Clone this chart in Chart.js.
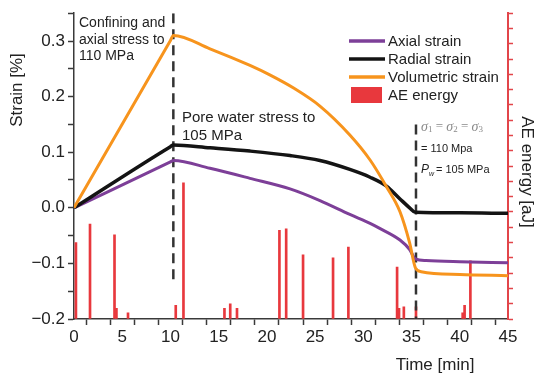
<!DOCTYPE html>
<html>
<head>
<meta charset="utf-8">
<script src="https://cdn.jsdelivr.net/npm/chart.js@4/dist/chart.umd.min.js"></script>
<style>
  html, body { margin: 0; padding: 0; background: #fff; }
  #wrap { width: 537px; height: 376px; position: relative; }
</style>
</head>
<body>
<div id="wrap"><canvas id="chart"></canvas></div>
<script>
// strain curves, time in minutes, strain in %
const axialTime = [0, 10.0, 10.3, 14.1, 18.25, 22.4, 25.5, 28.6, 30.7, 31.7, 33.8, 34.8, 35.4, 36.5, 40, 45];
const axialStrain = [0, 0.0825, 0.085, 0.071, 0.053, 0.034, 0.013, -0.012, -0.028, -0.037, -0.058, -0.075, -0.092, -0.095, -0.097, -0.099];

const radialTime = [0, 10.0, 10.3, 14.1, 18.25, 22.4, 25.5, 28.6, 30.7, 32.4, 33.8, 34.8, 35.4, 40, 45];
const radialStrain = [0, 0.11, 0.113, 0.108, 0.102, 0.094, 0.085, 0.069, 0.055, 0.039, 0.016, 0.0, -0.008, -0.009, -0.01];

const volTime = [0, 10.0, 10.3, 14.1, 18.25, 20.3, 22.9, 25.5, 28.6, 30.7, 32.4, 33.8, 34.8, 35.4, 36, 40, 45];
const volStrain = [0, 0.301, 0.31, 0.286, 0.256, 0.239, 0.214, 0.183, 0.131, 0.086, 0.038, -0.007, -0.063, -0.108, -0.115, -0.12, -0.122];

// acoustic emission events (right axis, unlabelled)
const aeTime = [0.2, 1.66, 4.2, 4.4, 5.6, 10.55, 11.35, 15.6, 16.2, 16.9, 21.3, 22.0, 23.75, 26.86, 28.45, 33.5, 33.7, 34.2, 35.46, 40.3, 40.5, 41.1];
const aeEnergy = [5.0, 6.2, 5.5, 0.7, 0.4, 0.9, 8.9, 0.7, 1.0, 0.7, 5.8, 5.9, 4.2, 4.0, 4.7, 3.4, 0.7, 0.8, 0.8, 0.4, 0.9, 3.8];

// stage markers: [time, top strain, bottom strain]
const stageLines = [[10.3, 0.35, -0.135], [35.46, 0.15, -0.2]];

const COL = {
  axial: '#7d3f98',
  radial: '#141414',
  vol: '#f7941d',
  ae: '#e8383d',
  aeAxis: '#e2454a',
  axis: '#3a3a3a',
  text: '#222'
};
const SANS = '"Liberation Sans", Arial, Helvetica, sans-serif';
const SERIF = '"Liberation Serif", "Times New Roman", serif';

const pts = (xs, ys) => xs.map((x, i) => ({ x, y: ys[i] }));

function strainLine(label, xs, ys, color, width, order) {
  return {
    type: 'line', label, data: pts(xs, ys),
    borderColor: color, backgroundColor: color, borderWidth: width,
    pointRadius: 0, cubicInterpolationMode: 'monotone', fill: false,
    yAxisID: 'y', order
  };
}

const dashSets = stageLines.map(([t, top, bot]) => ({
  type: 'line', label: 'stage', data: [{ x: t, y: top }, { x: t, y: bot }],
  borderColor: '#333', borderWidth: 2.5, borderDash: [10, 6],
  pointRadius: 0, yAxisID: 'y', order: 4
}));

// legend, annotations and axis titles drawn by hand to sit where the original has them
const decorPlugin = {
  id: 'decor',
  afterDraw(chart) {
    const ctx = chart.ctx;
    ctx.save();
    ctx.textBaseline = 'middle';
    ctx.textAlign = 'left';

    // legend
    const rows = [
      ['Axial strain', COL.axial, 41],
      ['Radial strain', COL.radial, 59],
      ['Volumetric strain', COL.vol, 77]
    ];
    rows.forEach(([txt, c, y]) => {
      ctx.strokeStyle = c;
      ctx.lineWidth = 3.5;
      ctx.beginPath();
      ctx.moveTo(349, y);
      ctx.lineTo(385, y);
      ctx.stroke();
      ctx.fillStyle = COL.text;
      ctx.font = '15px ' + SANS;
      ctx.fillText(txt, 388, y + 1);
    });
    ctx.fillStyle = COL.ae;
    ctx.fillRect(351, 87, 31, 16);
    ctx.fillStyle = COL.text;
    ctx.fillText('AE energy', 388, 96);

    // annotations
    ctx.font = '14px ' + SANS;
    ctx.fillText('Confining and', 79, 23);
    ctx.fillText('axial stress to', 79, 40);
    ctx.fillText('110 MPa', 79, 56);
    ctx.font = '15px ' + SANS;
    ctx.fillText('Pore water stress to', 182, 118);
    ctx.fillText('105 MPa', 182, 136);

    // stress state box
    let x = 421;
    const seg = (s, font, color, dy) => {
      ctx.font = font;
      ctx.fillStyle = color;
      ctx.fillText(s, x, 127 + (dy || 0));
      x += ctx.measureText(s).width;
    };
    const g = '#8a8a8a';
    seg('\u03c3', 'italic 14px ' + SERIF, g);
    seg('1', '9px ' + SERIF, g, 3);
    seg(' = ', '13px ' + SERIF, g);
    seg('\u03c3', 'italic 14px ' + SERIF, g);
    seg('2', '9px ' + SERIF, g, 3);
    seg(' = ', '13px ' + SERIF, g);
    seg('\u03c3', 'italic 14px ' + SERIF, g);
    seg('3', '9px ' + SERIF, g, 3);

    ctx.fillStyle = COL.text;
    ctx.font = '11px ' + SANS;
    ctx.fillText('= 110 Mpa', 421, 149);
    ctx.font = 'italic 12px ' + SANS;
    ctx.fillText('P', 421, 170);
    ctx.font = 'italic 7px ' + SANS;
    ctx.fillText('w', 429, 174);
    ctx.font = '11px ' + SANS;
    ctx.fillText('= 105 MPa', 436, 170);

    // axis titles
    ctx.fillStyle = COL.text;
    ctx.font = '17px ' + SANS;
    ctx.textAlign = 'center';
    ctx.fillText('Time [min]', 435, 365);

    ctx.save();
    ctx.translate(17, 90);
    ctx.rotate(-Math.PI / 2);
    ctx.fillText('Strain [%]', 0, 0);
    ctx.restore();

    ctx.save();
    ctx.translate(527, 172);
    ctx.rotate(Math.PI / 2);
    ctx.fillText('AE energy [aJ]', 0, 0);
    ctx.restore();

    ctx.restore();
  }
};

const isTenth = v => Math.abs(Math.round(v * 10) - v * 10) < 1e-6;

new Chart(document.getElementById('chart'), {
  type: 'line',
  plugins: [decorPlugin],
  data: {
    datasets: [
      strainLine('Axial strain', axialTime, axialStrain, COL.axial, 3, 3),
      strainLine('Radial strain', radialTime, radialStrain, COL.radial, 3.5, 2),
      strainLine('Volumetric strain', volTime, volStrain, COL.vol, 3, 1),
      ...dashSets,
      {
        type: 'bar', label: 'AE energy', data: pts(aeTime, aeEnergy),
        backgroundColor: COL.ae, borderWidth: 0, barThickness: 2,
        yAxisID: 'y2', order: 5
      }
    ]
  },
  options: {
    responsive: true,
    maintainAspectRatio: false,
    animation: false,
    layout: { padding: { top: 13, left: 0, right: 0, bottom: 0 } },
    plugins: { legend: { display: false }, tooltip: { enabled: false } },
    scales: {
      x: {
        type: 'linear', min: 0, max: 45, offset: false,
        afterFit: s => { s.height = 57; },
        border: { display: true, color: COL.axis, width: 1.5 },
        grid: { drawOnChartArea: false, drawTicks: true, tickLength: 6, tickColor: COL.axis, tickWidth: 1.5 },
        ticks: {
          stepSize: 2.5, autoSkip: false, maxRotation: 0, padding: 2,
          color: COL.text, font: { family: SANS, size: 17 },
          callback: v => (Math.abs(v % 5) < 1e-6 ? String(v) : '')
        }
      },
      y: {
        type: 'linear', position: 'left', min: -0.2, max: 0.35,
        afterFit: s => { s.width = 74; },
        border: { display: true, color: COL.axis, width: 1.5 },
        grid: { drawOnChartArea: false, drawTicks: true, tickLength: 6, tickColor: COL.axis, tickWidth: 1.5 },
        ticks: {
          stepSize: 0.05, autoSkip: false, padding: 3,
          color: COL.text, font: { family: SANS, size: 17 },
          callback: v => {
            if (!isTenth(v) || v > 0.31) return '';
            if (Math.abs(v) < 1e-9) return '0.0';
            return v.toFixed(1).replace('-', '\u2212');
          }
        }
      },
      y2: {
        type: 'linear', position: 'right', min: 0, max: 20,
        afterFit: s => { s.width = 29; },
        border: { display: true, color: COL.aeAxis, width: 2 },
        grid: { drawOnChartArea: false, drawTicks: true, tickLength: 5, tickColor: COL.aeAxis, tickWidth: 1.5 },
        ticks: { stepSize: 1, display: false }
      }
    }
  }
});
</script>
</body>
</html>
